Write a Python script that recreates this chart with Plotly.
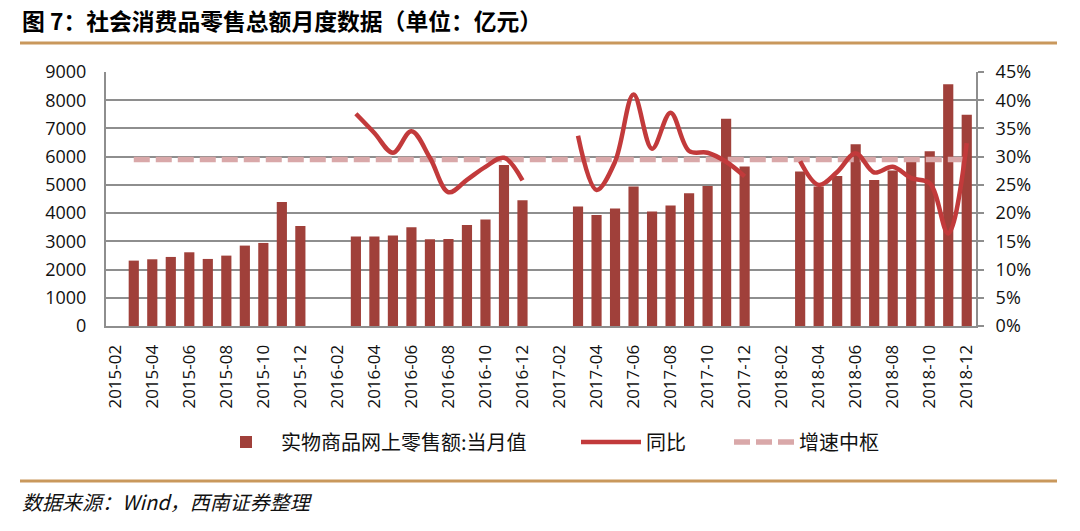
import plotly.graph_objects as go

months = [
    "2015-02", "2015-03", "2015-04", "2015-05", "2015-06", "2015-07", "2015-08", "2015-09", "2015-10", "2015-11", "2015-12",
    "2016-01", "2016-02", "2016-03", "2016-04", "2016-05", "2016-06", "2016-07", "2016-08", "2016-09", "2016-10", "2016-11", "2016-12",
    "2017-01", "2017-02", "2017-03", "2017-04", "2017-05", "2017-06", "2017-07", "2017-08", "2017-09", "2017-10", "2017-11", "2017-12",
    "2018-01", "2018-02", "2018-03", "2018-04", "2018-05", "2018-06", "2018-07", "2018-08", "2018-09", "2018-10", "2018-11", "2018-12",
]

# 实物商品网上零售额:当月值 (亿元)
online_retail = [
    None, 2317, 2364, 2447, 2612, 2376, 2494, 2849, 2943, 4397, 3546,
    None, None, 3168, 3168, 3203, 3499, 3073, 3085, 3582, 3771, 5709, 4456,
    None, None, 4232, 3936, 4161, 4941, 4054, 4267, 4704, 4965, 7340, 5650,
    None, None, 5473, 4941, 5319, 6442, 5177, 5510, 5850, 6190, 8570, 7482,
]

# 同比 (%)
yoy = [
    None, None, None, None, None, None, None, None, None, None, None,
    None, None, 37.6, 34.2, 30.7, 34.5, 29.8, 23.7, 25.9, 28.2, 29.8, 25.8,
    None, None, 33.7, 24.1, 29.1, 41.0, 31.4, 37.8, 31.0, 30.7, 29.1, 26.5,
    None, None, 29.2, 25.0, 27.3, 30.6, 27.2, 28.2, 26.2, 25.3, 16.4, 32.4,
]

# 增速中枢 (%)
center = [None] + [29.5] * 46

left_ticks = [0, 1000, 2000, 3000, 4000, 5000, 6000, 7000, 8000, 9000]
right_ticks = [0, 5, 10, 15, 20, 25, 30, 35, 40, 45]
right_labels = ["0%", "5%", "10%", "15%", "20%", "25%", "30%", "35%", "40%", "45%"]
x_ticks = months[::2]

W, H = 1080, 531
L, R, T, B = 106, 976, 72, 326


def px_x(px):
    return (px - L) / (R - L)


def px_y(py):
    return (B - py) / (B - T)


BAR = "#A0403A"
LINE = "#C23A3B"
DASH = "#D9A8A9"
GRID = "#8E8E8E"
GOLD = "#C9985C"

fig = go.Figure()
fig.add_trace(go.Bar(
    x=months, y=online_retail, name="实物商品网上零售额:当月值",
    marker=dict(color=BAR, line=dict(width=0)), legend="legend",
))
fig.add_trace(go.Scatter(
    x=months, y=center, name="增速中枢", yaxis="y2", mode="lines",
    line=dict(color=DASH, width=5.5, dash="16px,6px"), legend="legend3",
))
fig.add_trace(go.Scatter(
    x=months, y=yoy, name="同比", yaxis="y2", mode="lines", connectgaps=False,
    line=dict(color=LINE, width=4.5, shape="spline", smoothing=1), legend="legend2",
))

tick_font = dict(family="Open Sans", size=18, color="#111111")
legend_font = dict(family="Noto Sans CJK SC", size=20, color="#111111")


def legend_at(px):
    return dict(
        orientation="h", x=px_x(px), xanchor="left", y=px_y(442), yanchor="middle",
        font=legend_font, itemwidth=60, bgcolor="rgba(0,0,0,0)",
    )


fig.update_layout(
    width=W, height=H,
    margin=dict(l=L, r=W - R, t=T, b=H - B, pad=0),
    paper_bgcolor="white", plot_bgcolor="white",
    bargap=0.45,
    showlegend=True,
    legend=legend_at(211),
    legend2=legend_at(576),
    legend3=legend_at(729),
    xaxis=dict(
        type="category", categoryorder="array", categoryarray=months,
        range=[-0.5, len(months) - 0.5],
        tickmode="array", tickvals=x_ticks, ticktext=x_ticks,
        tickangle=-90, tickfont=dict(family="Open Sans", size=17, color="#111111"),
        showgrid=False, showline=True, linecolor=GRID, linewidth=2,
        ticks="", ticklabelstandoff=10, zeroline=False,
    ),
    yaxis=dict(
        range=[0, 9000], tickmode="array", tickvals=left_ticks,
        tickfont=tick_font, showgrid=True, gridcolor=GRID, gridwidth=1.6,
        showline=True, linecolor=GRID, linewidth=2, ticks="",
        ticklabelstandoff=14, zeroline=False,
    ),
    yaxis2=dict(
        range=[0, 45], overlaying="y", side="right", tickmode="array",
        tickvals=right_ticks, ticktext=right_labels, tickfont=tick_font,
        showgrid=False, showline=True, linecolor=GRID, linewidth=2,
        ticks="outside", ticklen=6, tickcolor=GRID, tickwidth=1.6,
        ticklabelstandoff=8, zeroline=False,
    ),
    shapes=[
        dict(type="line", xref="paper", yref="paper", x0=px_x(20), x1=px_x(1057),
             y0=px_y(43), y1=px_y(43), line=dict(color=GOLD, width=3)),
        dict(type="line", xref="paper", yref="paper", x0=px_x(20), x1=px_x(1057),
             y0=px_y(481), y1=px_y(481), line=dict(color=GOLD, width=3)),
    ],
    annotations=[
        dict(text="<b>图 7：社会消费品零售总额月度数据（单位：亿元）</b>", xref="paper", yref="paper",
             x=px_x(20), y=px_y(21), xanchor="left", yanchor="middle", showarrow=False,
             font=dict(family="Noto Sans CJK SC", size=22.8, color="#000000")),
        dict(text="<i>数据来源：Wind，西南证券整理</i>", xref="paper", yref="paper",
             x=px_x(20), y=px_y(501), xanchor="left", yanchor="middle", showarrow=False,
             font=dict(family="Noto Sans CJK SC", size=20, color="#111111")),
    ],
)

fig.write_html("out.html", config={"displayModeBar": False},
               post_script="document.body.style.margin='0';")
